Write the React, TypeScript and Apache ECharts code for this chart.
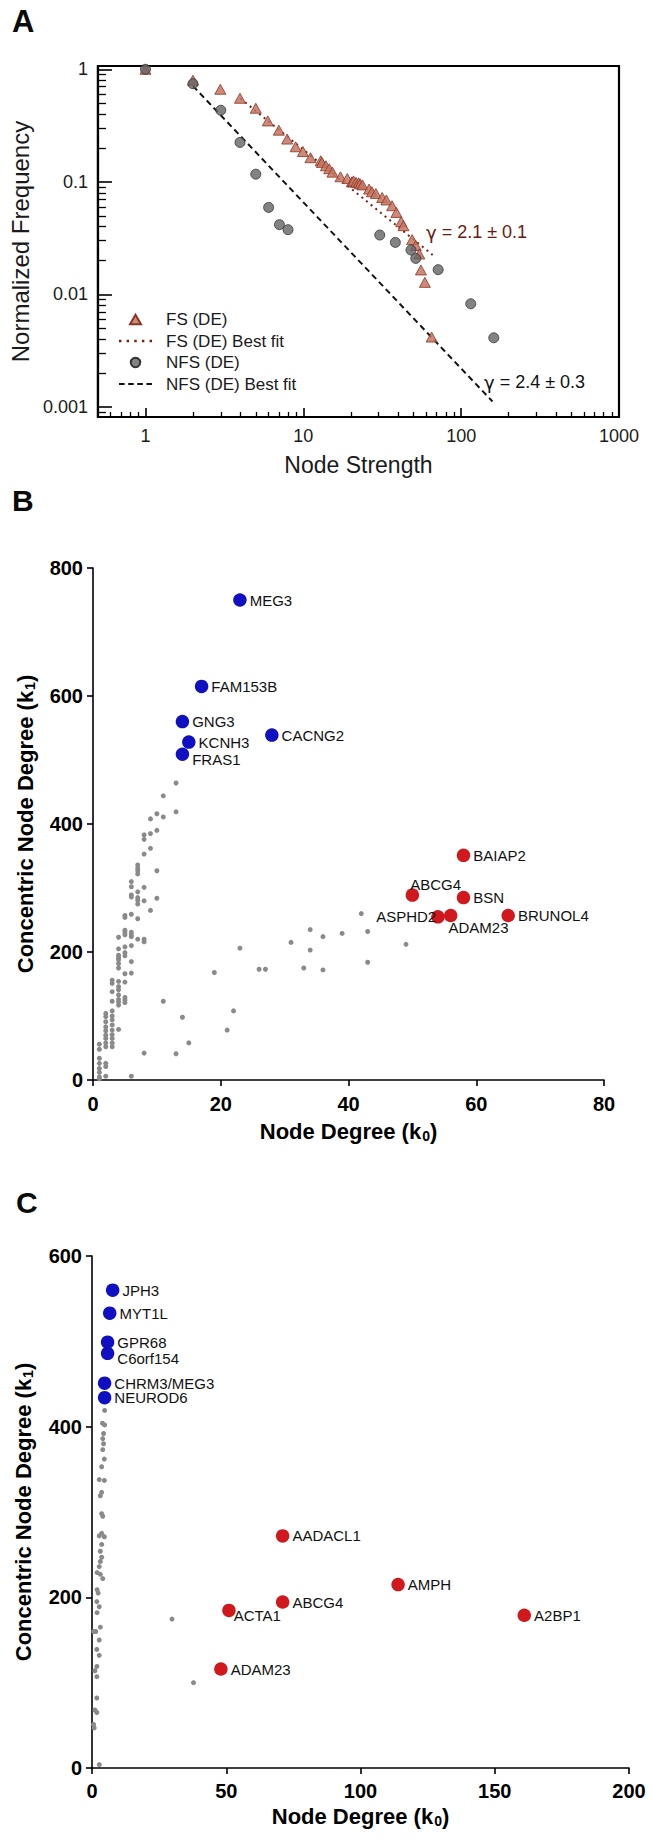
import { useEffect, useRef } from 'react';
import * as echarts from 'echarts';

// ---------- Panel A: normalized frequency vs node strength (log-log) ----------
const fsPoints: [number, number][] = [
  [1, 1], [2.0, 0.8], [2.98, 0.665], [3.97, 0.553], [5.0, 0.451], [5.96, 0.348], [7.0, 0.288],
  [7.9, 0.24], [8.94, 0.205], [9.94, 0.186], [11.1, 0.164], [12.9, 0.154], [13.1, 0.149],
  [13.9, 0.139], [14.6, 0.131], [15.3, 0.122], [17.2, 0.111], [19.0, 0.107], [20.3, 0.1],
  [20.8, 0.102], [21.6, 0.099], [22.4, 0.098], [22.9, 0.096], [23.7, 0.094], [26.1, 0.0863],
  [27.2, 0.0817], [28.8, 0.0788], [31.6, 0.0727], [33.6, 0.069], [36.5, 0.0614], [38.9, 0.0535],
  [41.7, 0.0443], [43.1, 0.0408], [48.9, 0.0307], [51.6, 0.0272], [54.3, 0.0229], [55.6, 0.0165],
  [58.9, 0.0128], [65, 0.00418],
];
const nfsPoints: [number, number][] = [
  [1, 1], [2, 0.745], [3, 0.433], [3.97, 0.224], [5, 0.117], [6.03, 0.0593], [7.06, 0.0417],
  [8, 0.0376], [30.5, 0.0337], [38.3, 0.029], [48.1, 0.0248], [51.6, 0.0209], [71.5, 0.0166],
  [115, 0.00826], [161, 0.00412],
];
const fsFit: [number, number][] = [[4, 0.55], [66, 0.0224]];
const nfsFit: [number, number][] = [[2, 0.71], [158, 0.00112]];
const fsGammaText = ' = 2.1 ± 0.1';
const nfsGammaText = ' = 2.4 ± 0.3';

const aXMajor = [1, 10, 100, 1000];
const aXMajorLabels = ['1', '10', '100', '1000'];
const aXMinor = [0.6, 0.7, 0.8, 0.9, 2, 3, 4, 5, 6, 7, 8, 9, 20, 30, 40, 50, 60, 70, 80, 90,
  200, 300, 400, 500, 600, 700, 800, 900];
const aYMajor = [0.001, 0.01, 0.1, 1];
const aYMajorLabels = ['0.001', '0.01', '0.1', '1'];
const aYMinor = [0.0009, 0.002, 0.003, 0.004, 0.005, 0.006, 0.007, 0.008, 0.009,
  0.02, 0.03, 0.04, 0.05, 0.06, 0.07, 0.08, 0.09, 0.2, 0.3, 0.4, 0.5, 0.6, 0.7, 0.8, 0.9];

// ---------- Panel B: concentric node degree vs node degree ----------
const bOtherPoints: [number, number][] = [
  [13, 464], [11, 444], [13, 419], [10, 416], [11, 411], [9, 408], [10, 390], [9, 385], [8, 383],
  [8, 376], [9, 362], [8, 353], [10, 327], [7, 336], [7, 331], [7, 327], [7, 322], [6, 310],
  [6, 302], [8, 301], [7, 294], [6, 289], [6, 286], [7, 285], [7, 281], [7, 275], [8, 280],
  [10, 284], [9, 265], [5, 257], [5, 254], [6, 259], [7, 252], [5, 234], [5, 231], [6, 231],
  [6, 227], [6, 224], [4, 223], [5, 227], [7, 220], [8, 220], [8, 216], [6, 210], [4, 205],
  [4, 195], [4, 191], [4, 188], [4, 182], [4, 175], [5, 208], [5, 199], [5, 194], [6, 185],
  [6, 167], [5, 166], [5, 153], [3, 156], [3, 151], [3, 138], [3, 123], [4, 154], [4, 146],
  [4, 141], [4, 133], [4, 126], [4, 122], [4, 117], [5, 129], [5, 125], [5, 121], [11, 123],
  [2, 104], [2, 99], [2, 91], [2, 83], [2, 77], [2, 70], [2, 65], [2, 58], [2, 52], [3, 108],
  [3, 100], [3, 94], [3, 86], [3, 78], [3, 71], [3, 65], [3, 58], [3, 52], [4, 79], [1, 56],
  [1, 48], [1, 34], [1, 26], [1, 18], [1, 12], [1, 5], [1, 2], [2, 26], [2, 21], [2, 6], [6, 6],
  [8, 42], [13, 41], [14, 98], [15, 58], [21, 78], [22, 108], [23, 206], [19, 168], [26, 173],
  [27, 173], [31, 215], [33, 175], [34, 203], [34, 235], [36, 224], [36, 172], [39, 229],
  [42, 260], [43, 232], [43, 184], [49, 212],
];
const bBlueGenes = ['MEG3', 'FAM153B', 'GNG3', 'CACNG2', 'KCNH3', 'FRAS1'];
const bBlueK0 = [23, 17, 14, 28, 15, 14];
const bBlueK1 = [750, 615, 560, 539, 528, 509];
const bRedGenes = ['BAIAP2', 'ABCG4', 'BSN', 'ASPHD2', 'ADAM23', 'BRUNOL4'];
const bRedK0 = [58, 50, 58, 54, 56, 65];
const bRedK1 = [351, 289, 285, 255, 257, 257];
const bXTicks = [0, 20, 40, 60, 80];
const bYTicks = [0, 200, 400, 600, 800];

// ---------- Panel C ----------
const cOtherPoints: [number, number][] = [
  [4.7, 419], [3.9, 404], [4.7, 402], [4.3, 392], [4, 386], [4.3, 380], [4, 373], [4.6, 362],
  [3.6, 353], [2.7, 338], [4.6, 337], [3.6, 323], [3.1, 319], [3.6, 298], [4, 295], [3.6, 275],
  [4.6, 271], [2.7, 272], [3.6, 262], [3.1, 254], [3.6, 247], [3.1, 242], [2.7, 236], [1.9, 229],
  [3.1, 227], [4, 222], [1.9, 209], [2.3, 205], [1.8, 195], [2.7, 189], [1.9, 182], [3.1, 165],
  [1.4, 160], [0.6, 160], [2.7, 150], [1.8, 139], [2.7, 132], [1.8, 119], [1.1, 114], [1.8, 107],
  [1.8, 82], [1.1, 68], [1.8, 65], [0.6, 51], [0.8, 47], [2.7, 4], [29.8, 174.5], [37.8, 100],
];
const cBlueGenes = ['JPH3', 'MYT1L', 'GPR68', 'C6orf154', 'CHRM3/MEG3', 'NEUROD6'];
const cBlueK0 = [7.7, 6.6, 5.8, 5.8, 4.7, 4.7];
const cBlueK1 = [560, 533, 499, 486, 451, 434];
const cRedGenes = ['AADACL1', 'ABCG4', 'ACTA1', 'ADAM23', 'AMPH', 'A2BP1'];
const cRedK0 = [71, 71, 51, 48, 114, 161];
const cRedK1 = [272, 194.5, 184.7, 116, 215, 179];
const cXTicks = [0, 50, 100, 150, 200];
const cYTicks = [0, 200, 400, 600];

const FONT = "'Liberation Sans', Arial, Helvetica, sans-serif";
const BLUE = '#1010c2';
const RED = '#d0181d';
const GRAY = '#8a8a8a';

const DOTTED_ICON = 'path://M0 0h2.4v2.4h-2.4z M7.6 0h2.4v2.4h-2.4z M15.2 0h2.4v2.4h-2.4z M22.8 0h2.4v2.4h-2.4z M30.4 0h2.4v2.4h-2.4z';
const DASHED_ICON = 'path://M0 0h5.5v2.2h-5.5z M9 0h5.5v2.2h-5.5z M18 0h5.5v2.2h-5.5z M27 0h5.5v2.2h-5.5z';
const TRIANGLE_ICON = 'path://M5 0L10 8.66L0 8.66Z';

function nearestLabel(v: number, values: number[], labels: string[]) {
  let best = 0;
  for (let i = 1; i < values.length; i++) {
    if (Math.abs(Math.log10(values[i]) - Math.log10(v)) < Math.abs(Math.log10(values[best]) - Math.log10(v))) best = i;
  }
  return labels[best];
}

function geneItems(genes: string[], xs: number[], ys: number[], placement: Record<string, any>) {
  return genes.map((g, i) => {
    const p = placement[g] || {};
    return {
      name: g,
      value: [xs[i], ys[i]],
      label: { show: true, formatter: g, position: p.position || 'right', offset: p.offset || [0, 0], distance: 3 },
    };
  });
}

function linearAxesCommon() {
  return {
    axisLine: { show: true, lineStyle: { color: '#000', width: 1.6 } },
    axisTick: { show: true, inside: false, length: 6, lineStyle: { color: '#000', width: 1.6 } },
    splitLine: { show: false },
  };
}

export default function App() {
  const ref = useRef<HTMLDivElement>(null);
  useEffect(() => {
    document.body.style.margin = '0';
    document.body.style.overflow = 'hidden';
    const chart = echarts.init(ref.current!, undefined, { renderer: 'svg' });

    const bPlacement: Record<string, any> = {
      FRAS1: { offset: [0, 5] },
      ABCG4: { offset: [-12, -11] },
      ASPHD2: { position: 'left', offset: [8, 0] },
      ADAM23: { offset: [-12, 12] },
    };
    const cPlacement: Record<string, any> = {
      C6orf154: { offset: [0, 5] },
      ACTA1: { offset: [-5, 5] },
    };

    const geneLabelStyle = { fontSize: 15, color: '#111', fontFamily: FONT };
    const boldTick = { fontSize: 20, fontWeight: 'bold', color: '#000', fontFamily: FONT };
    const nameRich = {
      t: { fontSize: 22, fontWeight: 'bold', color: '#000', fontFamily: FONT },
      s: { fontSize: 14, fontWeight: 'bold', color: '#000', fontFamily: FONT, padding: [9, 0, 0, 1] },
    };
    const gammaRich = (color: string) => ({
      g: { fontSize: 18, fill: color, fontFamily: "'DejaVu Sans', sans-serif" },
      t: { fontSize: 18, fill: color, fontFamily: FONT },
    });

    const option: any = {
      animation: false,
      textStyle: { fontFamily: FONT },
      grid: [
        { left: 88, top: 66, width: 531, height: 351, show: true, borderColor: '#000', borderWidth: 2.2, containLabel: false },
        { left: 93, top: 568, width: 511, height: 512, containLabel: false },
        { left: 92, top: 1256, width: 537, height: 512, containLabel: false },
      ],
      legend: {
        data: [
          { name: 'FS (DE)', icon: TRIANGLE_ICON },
          { name: 'FS (DE) Best fit', icon: DOTTED_ICON },
          { name: 'NFS (DE)', icon: 'circle' },
          { name: 'NFS (DE) Best fit', icon: DASHED_ICON },
        ],
        orient: 'vertical',
        left: 114,
        top: 306,
        itemWidth: 33,
        itemHeight: 9.5,
        itemGap: 4.5,
        symbolKeepAspect: true,
        selectedMode: false,
        textStyle: { fontSize: 17, color: '#1a1a1a', fontFamily: FONT, padding: [0, 0, 0, 9] },
      },
      xAxis: [
        {
          gridIndex: 0, type: 'log', min: 0.5, max: 1000, position: 'bottom',
          name: 'Node Strength', nameLocation: 'middle', nameGap: 36,
          nameTextStyle: { fontSize: 23, color: '#1a1a1a', fontFamily: FONT },
          axisLine: { show: true, lineStyle: { color: '#000', width: 2.2 } },
          axisTick: { show: true, inside: true, length: 9, customValues: aXMajor, lineStyle: { color: '#000', width: 1.6 } },
          axisLabel: { show: true, customValues: aXMajor, margin: 10, fontSize: 18, color: '#1a1a1a', fontFamily: FONT,
            formatter: (v: number) => nearestLabel(v, aXMajor, aXMajorLabels) },
          splitLine: { show: false }, minorTick: { show: false },
        },
        {
          gridIndex: 0, type: 'log', min: 0.5, max: 1000, position: 'bottom',
          axisLine: { show: false },
          axisTick: { show: true, inside: true, length: 5, customValues: aXMinor, lineStyle: { color: '#000', width: 1.3 } },
          axisLabel: { show: false },
          splitLine: { show: false },
        },
        {
          gridIndex: 1, type: 'value', min: 0, max: 80, interval: 20,
          name: '{t|Node Degree (k}{s|0}{t|)}', nameLocation: 'middle', nameGap: 40,
          nameTextStyle: { rich: nameRich },
          ...linearAxesCommon(),
          axisLabel: { ...boldTick, margin: 14, customValues: bXTicks },
        },
        {
          gridIndex: 2, type: 'value', min: 0, max: 200, interval: 50,
          name: '{t|Node Degree (k}{s|0}{t|)}', nameLocation: 'middle', nameGap: 37,
          nameTextStyle: { rich: nameRich },
          ...linearAxesCommon(),
          axisLabel: { ...boldTick, margin: 13, customValues: cXTicks },
        },
      ],
      yAxis: [
        {
          gridIndex: 0, type: 'log', min: 0.000815, max: 1.07, position: 'left',
          name: 'Normalized Frequency', nameLocation: 'middle', nameGap: 54,
          nameTextStyle: { fontSize: 24, color: '#1a1a1a', fontFamily: FONT },
          axisLine: { show: true, lineStyle: { color: '#000', width: 2.2 } },
          axisTick: { show: true, inside: true, length: 14, customValues: aYMajor, lineStyle: { color: '#000', width: 1.6 } },
          axisLabel: { show: true, customValues: aYMajor, margin: 10, fontSize: 18, color: '#1a1a1a', fontFamily: FONT,
            formatter: (v: number) => nearestLabel(v, aYMajor, aYMajorLabels) },
          splitLine: { show: false }, minorTick: { show: false },
        },
        {
          gridIndex: 0, type: 'log', min: 0.000815, max: 1.07, position: 'left',
          axisLine: { show: false },
          axisTick: { show: true, inside: true, length: 8, customValues: aYMinor, lineStyle: { color: '#000', width: 1.3 } },
          axisLabel: { show: false },
          splitLine: { show: false },
        },
        {
          gridIndex: 1, type: 'value', min: 0, max: 800, interval: 200,
          name: '{t|Concentric Node Degree (k}{s|1}{t|)}', nameLocation: 'middle', nameGap: 56,
          nameTextStyle: { rich: nameRich },
          ...linearAxesCommon(),
          axisLabel: { ...boldTick, margin: 10, customValues: bYTicks },
        },
        {
          gridIndex: 2, type: 'value', min: 0, max: 600, interval: 200,
          name: '{t|Concentric Node Degree (k}{s|1}{t|)}', nameLocation: 'middle', nameGap: 57,
          nameTextStyle: { rich: nameRich },
          ...linearAxesCommon(),
          axisLabel: { ...boldTick, margin: 10, customValues: cYTicks },
        },
      ],
      graphic: [
        { type: 'text', left: 12, top: 6, style: { text: 'A', fontSize: 31, fontWeight: 'bold', fill: '#0a0a0a', fontFamily: FONT } },
        { type: 'text', left: 12, top: 485, style: { text: 'B', fontSize: 30, fontWeight: 'bold', fill: '#0a0a0a', fontFamily: FONT } },
        { type: 'text', left: 16, top: 1187, style: { text: 'C', fontSize: 30, fontWeight: 'bold', fill: '#0a0a0a', fontFamily: FONT } },
        { type: 'text', x: 426, y: 232, style: { text: '{g|γ}{t|' + fsGammaText + '}', rich: gammaRich('#6b1a10'), verticalAlign: 'middle' } },
        { type: 'text', x: 484, y: 382, style: { text: '{g|γ}{t|' + nfsGammaText + '}', rich: gammaRich('#111'), verticalAlign: 'middle' } },
      ],
      series: [
        {
          name: 'FS (DE) Best fit', type: 'line', xAxisIndex: 0, yAxisIndex: 0, data: fsFit,
          symbol: 'none', z: 3,
          lineStyle: { color: '#7a1c10', width: 2, type: [2, 4] },
          itemStyle: { color: '#7a1c10' },
        },
        {
          name: 'NFS (DE) Best fit', type: 'line', xAxisIndex: 0, yAxisIndex: 0, data: nfsFit,
          symbol: 'none', z: 3,
          lineStyle: { color: '#111', width: 2, type: [6, 4] },
          itemStyle: { color: '#111' },
        },
        {
          name: 'FS (DE)', type: 'scatter', xAxisIndex: 0, yAxisIndex: 0, data: fsPoints,
          symbol: 'triangle', symbolSize: [11, 10], z: 4,
          itemStyle: { color: 'rgba(196,118,98,0.85)', borderColor: '#8c3524', borderWidth: 0.8, opacity: 1 },
        },
        {
          name: 'NFS (DE)', type: 'scatter', xAxisIndex: 0, yAxisIndex: 0, data: nfsPoints,
          symbol: 'circle', symbolSize: 10, z: 5,
          itemStyle: { color: 'rgba(100,100,100,0.8)', borderColor: '#333', borderWidth: 0.8, opacity: 1 },
        },
        {
          name: 'B other', type: 'scatter', xAxisIndex: 2, yAxisIndex: 2, data: bOtherPoints,
          symbolSize: 5, itemStyle: { color: GRAY, opacity: 1 },
        },
        {
          name: 'B hub blue', type: 'scatter', xAxisIndex: 2, yAxisIndex: 2, symbolSize: 13.5, z: 4,
          data: geneItems(bBlueGenes, bBlueK0, bBlueK1, bPlacement),
          itemStyle: { color: BLUE, opacity: 1 }, label: geneLabelStyle,
        },
        {
          name: 'B hub red', type: 'scatter', xAxisIndex: 2, yAxisIndex: 2, symbolSize: 13.5, z: 4,
          data: geneItems(bRedGenes, bRedK0, bRedK1, bPlacement),
          itemStyle: { color: RED, opacity: 1 }, label: geneLabelStyle,
        },
        {
          name: 'C other', type: 'scatter', xAxisIndex: 3, yAxisIndex: 3, data: cOtherPoints,
          symbolSize: 5, itemStyle: { color: GRAY, opacity: 1 },
        },
        {
          name: 'C hub blue', type: 'scatter', xAxisIndex: 3, yAxisIndex: 3, symbolSize: 13.5, z: 4,
          data: geneItems(cBlueGenes, cBlueK0, cBlueK1, cPlacement),
          itemStyle: { color: BLUE, opacity: 1 }, label: geneLabelStyle,
        },
        {
          name: 'C hub red', type: 'scatter', xAxisIndex: 3, yAxisIndex: 3, symbolSize: 13.5, z: 4,
          data: geneItems(cRedGenes, cRedK0, cRedK1, cPlacement),
          itemStyle: { color: RED, opacity: 1 }, label: geneLabelStyle,
        },
      ],
    };
    chart.setOption(option);
    return () => chart.dispose();
  }, []);
  return <div ref={ref} style={{ width: 652, height: 1842 }} />;
}
